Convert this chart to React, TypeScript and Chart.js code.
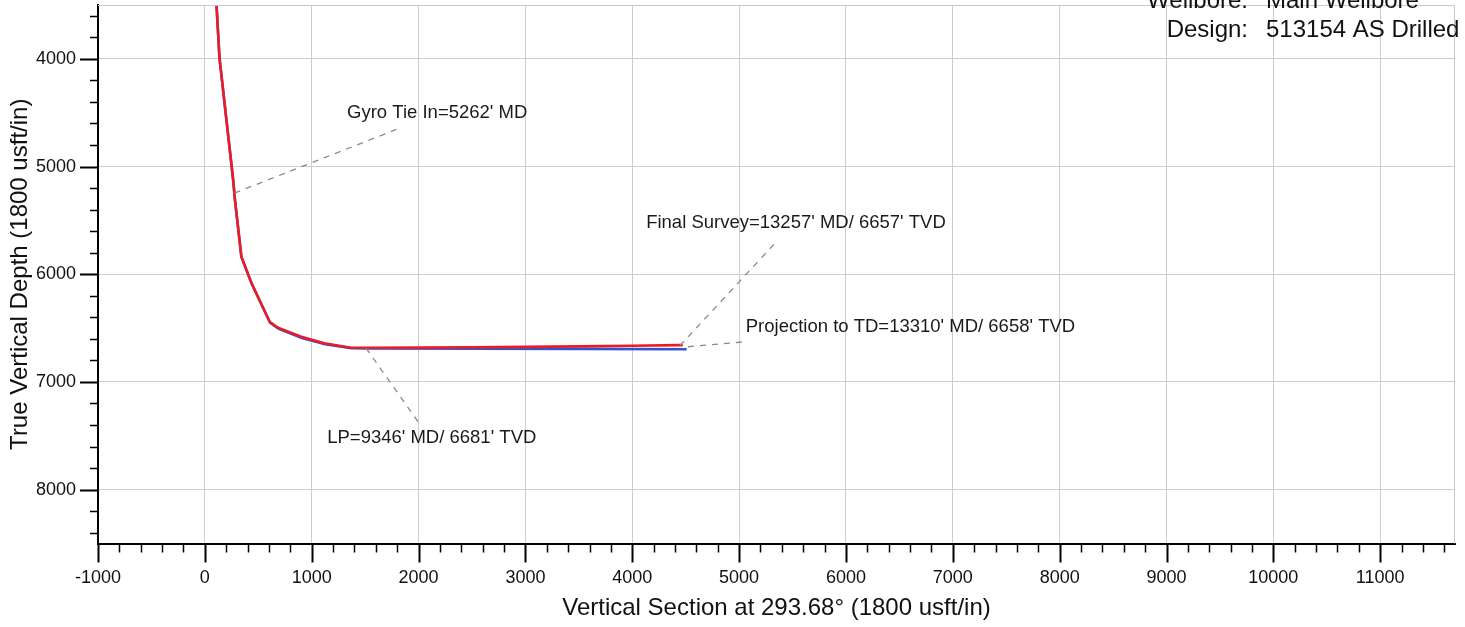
import React, { useEffect, useRef } from 'react';
import { Chart, registerables } from 'chart.js';

Chart.register(...registerables);

// Actual wellbore (red): vertical section (usft) vs true vertical depth (usft)
const actualVS = [109, 137, 265, 282, 342, 436, 606, 685, 902, 1119, 1368, 1508, 2000, 2500, 3000, 3500, 4000, 4420, 4473];
const actualTVD = [3500, 3992, 5125, 5311, 5837, 6081, 6441, 6497, 6580, 6641, 6682, 6683, 6681, 6678, 6674, 6670, 6664, 6658, 6658];

// Plan (blue)
const planVS = [109, 137, 265, 282, 342, 440, 612, 692, 908, 1125, 1370, 1508, 2500, 3500, 4509];
const planTVD = [3500, 3992, 5125, 5311, 5840, 6090, 6452, 6508, 6592, 6650, 6686, 6689, 6691, 6693, 6696];

// Axis tick values (minor every 200, labelled every 1000)
const xTickValues = Array.from({ length: 64 }, (_, i) => -1000 + i * 200);
const yTickValues = Array.from({ length: 25 }, (_, i) => 3600 + i * 200);

// Annotations (data coordinates)
const annotationLabels = [
  "Gyro Tie In=5262' MD",
  "Final Survey=13257' MD/ 6657' TVD",
  "Projection to TD=13310' MD/ 6658' TVD",
  "LP=9346' MD/ 6681' TVD",
];
const annotationPointVS = [277, 4446, 4522, 1508];
const annotationPointTVD = [5246, 6663, 6673, 6685];
const annotationLeaderVS = [1835, 5349, 5063, 2006];
const annotationLeaderTVD = [4639, 5698, 6626, 7384];
const annotationTextVS = [1331, 4130, 5062, 1145];
const annotationTextTVD = [4506, 5527, 6487, 7523];

const headerLabels = ['Wellbore:', 'Design:'];
const headerValues = ['Main Wellbore', '513154 AS Drilled'];

const xTitle = 'Vertical Section at 293.68° (1800 usft/in)';
const yTitle = 'True Vertical Depth (1800 usft/in)';

const FONT = "'Liberation Sans', Arial, Helvetica, sans-serif";

const isMajor = (v: number) => Math.abs(v % 1000) < 1e-6;

const overlayPlugin = {
  id: 'overlay',
  afterDraw(chart: any) {
    const { ctx, chartArea, scales } = chart;
    const x = scales.x;
    const y = scales.y;
    ctx.save();

    // light frame top / right
    ctx.strokeStyle = '#c8c8c8';
    ctx.lineWidth = 1;
    ctx.beginPath();
    ctx.moveTo(chartArea.left, chartArea.top + 0.5);
    ctx.lineTo(chartArea.right - 0.5, chartArea.top + 0.5);
    ctx.lineTo(chartArea.right - 0.5, chartArea.bottom);
    ctx.stroke();

    // tick marks
    ctx.strokeStyle = '#000';
    x.ticks.forEach((t: any) => {
      const major = isMajor(t.value);
      const px = Math.round(x.getPixelForValue(t.value)) + 0.5;
      ctx.lineWidth = major ? 2 : 1.5;
      ctx.beginPath();
      ctx.moveTo(px, chartArea.bottom);
      ctx.lineTo(px, chartArea.bottom + (major ? 19 : 9));
      ctx.stroke();
    });
    y.ticks.forEach((t: any) => {
      const major = isMajor(t.value);
      const py = Math.round(y.getPixelForValue(t.value)) + 0.5;
      ctx.lineWidth = major ? 2 : 1.5;
      ctx.beginPath();
      ctx.moveTo(chartArea.left, py);
      ctx.lineTo(chartArea.left - (major ? 18 : 8), py);
      ctx.stroke();
    });

    // annotations
    ctx.font = `18.5px ${FONT}`;
    ctx.textAlign = 'left';
    ctx.textBaseline = 'middle';
    annotationLabels.forEach((label, i) => {
      const x0 = x.getPixelForValue(annotationPointVS[i]);
      const y0 = y.getPixelForValue(annotationPointTVD[i]);
      const x1 = x.getPixelForValue(annotationLeaderVS[i]);
      const y1 = y.getPixelForValue(annotationLeaderTVD[i]);
      ctx.strokeStyle = '#8a8a8a';
      ctx.lineWidth = 1.3;
      ctx.setLineDash([6, 6]);
      ctx.beginPath();
      ctx.moveTo(x0, y0);
      ctx.lineTo(x1, y1);
      ctx.stroke();
      ctx.setLineDash([]);
      ctx.fillStyle = '#1a1a1a';
      ctx.fillText(label, x.getPixelForValue(annotationTextVS[i]), y.getPixelForValue(annotationTextTVD[i]));
    });

    // header
    ctx.font = `24px ${FONT}`;
    ctx.textBaseline = 'alphabetic';
    ctx.fillStyle = '#111';
    const baselines = [8, 37];
    headerLabels.forEach((lab, i) => {
      ctx.textAlign = 'right';
      ctx.fillText(lab, 1248, baselines[i]);
      ctx.textAlign = 'left';
      ctx.fillText(headerValues[i], 1266, baselines[i]);
    });

    ctx.restore();
  },
};

export default function App() {
  const canvasRef = useRef<HTMLCanvasElement | null>(null);

  useEffect(() => {
    const canvas = canvasRef.current;
    if (!canvas) return;
    Chart.defaults.font.family = FONT;
    Chart.defaults.color = '#111';

    const gridColor = (c: any) => (c.tick && isMajor(c.tick.value) ? '#cdcdcd' : 'rgba(0,0,0,0)');
    const labelCb = (v: any) => (isMajor(Number(v)) ? String(v) : '');

    const chart = new Chart(canvas, {
      type: 'scatter',
      data: {
        datasets: [
          {
            label: 'Actual',
            data: actualVS.map((v, i) => ({ x: v, y: actualTVD[i] })),
            showLine: true,
            borderColor: '#ec1c24',
            backgroundColor: '#ec1c24',
            borderWidth: 2.6,
            pointRadius: 0,
            tension: 0,
          },
          {
            label: 'Plan',
            data: planVS.map((v, i) => ({ x: v, y: planTVD[i] })),
            showLine: true,
            borderColor: '#2f55d4',
            backgroundColor: '#2f55d4',
            borderWidth: 2.6,
            pointRadius: 0,
            tension: 0,
          },
        ],
      },
      options: {
        animation: false,
        responsive: false,
        maintainAspectRatio: false,
        layout: { padding: { left: 0, top: 5, right: 10, bottom: 0 } },
        plugins: {
          legend: { display: false },
          tooltip: { enabled: false },
          title: { display: false },
        },
        scales: {
          x: {
            type: 'linear',
            min: -1000,
            max: 11700,
            grid: { color: gridColor, lineWidth: 1, drawTicks: false },
            border: { display: true, color: '#000', width: 2 },
            ticks: {
              autoSkip: false,
              maxRotation: 0,
              padding: 23.5,
              font: { size: 18 },
              color: '#111',
              callback: labelCb,
            },
            afterBuildTicks: (scale: any) => {
              scale.ticks = xTickValues.map((v) => ({ value: v }));
            },
            title: {
              display: true,
              text: xTitle,
              font: { size: 24 },
              color: '#111',
              padding: { top: 0, bottom: 4.6 },
            },
            afterFit: (scale: any) => {
              scale.height = 83.5;
              scale.paddingLeft = 0;
              scale.paddingRight = 0;
            },
          },
          y: {
            type: 'linear',
            reverse: true,
            min: 3500,
            max: 8500,
            grid: { color: gridColor, lineWidth: 1, drawTicks: false },
            border: { display: true, color: '#000', width: 2 },
            ticks: {
              autoSkip: false,
              padding: 22,
              font: { size: 18 },
              color: '#111',
              callback: labelCb,
            },
            afterBuildTicks: (scale: any) => {
              scale.ticks = yTickValues.map((v) => ({ value: v }));
            },
            title: {
              display: true,
              text: yTitle,
              font: { size: 24 },
              color: '#111',
              padding: { top: 5.6, bottom: 0 },
            },
            afterFit: (scale: any) => {
              scale.width = 98;
              scale.paddingTop = 0;
              scale.paddingBottom = 0;
            },
          },
        },
      },
      plugins: [overlayPlugin],
    });

    return () => {
      chart.destroy();
    };
  }, []);

  return (
    <div style={{ position: 'fixed', left: 0, top: 0, width: 1465, height: 627, background: '#fff' }}>
      <canvas ref={canvasRef} width={1465} height={627} style={{ display: 'block', width: 1465, height: 627 }} />
    </div>
  );
}
